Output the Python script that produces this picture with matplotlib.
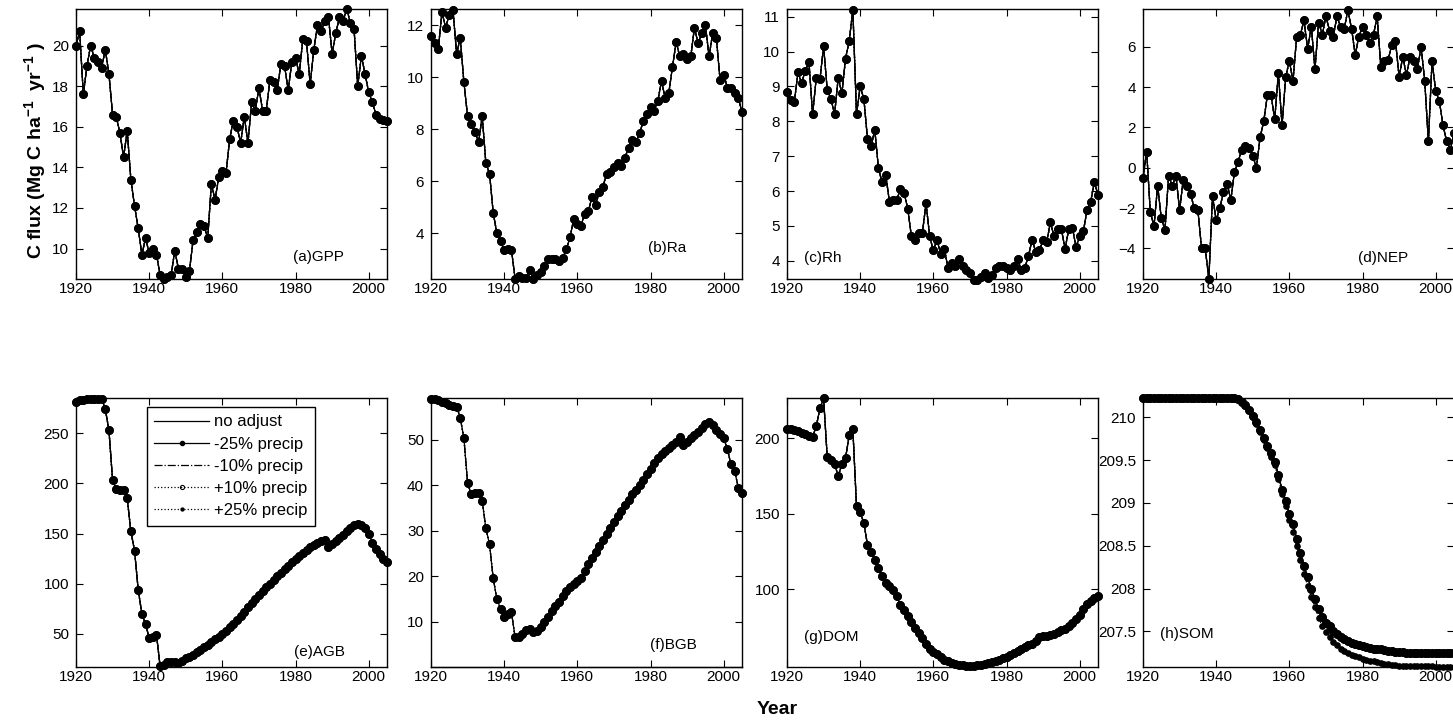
import numpy as np
import matplotlib
matplotlib.use("Agg")
import matplotlib.pyplot as plt

plt.rcParams['font.family'] = ['Liberation Sans', 'DejaVu Sans']
plt.rcParams['mathtext.fontset'] = 'custom'
plt.rcParams['mathtext.rm'] = 'Liberation Sans'
plt.rcParams['mathtext.bf'] = 'Liberation Sans:bold'
plt.rcParams['mathtext.default'] = 'regular'

years = np.arange(1920, 2006)

# ---- annual carbon fluxes (Mg C ha-1 yr-1) ----
gpp = [20.0, 20.7, 17.6, 19.0, 20.0, 19.4, 19.2, 18.9, 19.8, 18.6,
       16.6, 16.5, 15.7, 14.5, 15.8, 13.4, 12.1, 11.0, 9.7, 10.5,
       9.8, 10.0, 9.7, 8.7, 8.5, 8.6, 8.7, 9.9, 9.0, 9.0,
       8.6, 8.9, 10.4, 10.8, 11.2, 11.1, 10.5, 13.2, 12.4, 13.5,
       13.8, 13.7, 15.4, 16.3, 16.0, 15.2, 16.5, 15.2, 17.2, 16.8,
       17.9, 16.8, 16.8, 18.3, 18.2, 17.8, 19.1, 19.0, 17.8, 19.2,
       19.4, 18.6, 20.3, 20.2, 18.1, 19.8, 21.0, 20.7, 21.2, 21.4,
       19.6, 20.6, 21.4, 21.2, 21.8, 21.1, 20.8, 18.0, 19.5, 18.6,
       17.7, 17.2, 16.6, 16.4, 16.35, 16.3]

ra = [11.6, 11.3, 11.1, 12.5, 11.9, 12.4, 12.6, 10.9, 11.5, 9.8,
      8.5, 8.2, 7.9, 7.5, 8.5, 6.7, 6.3, 4.8, 4.0, 3.7,
      3.35, 3.4, 3.35, 2.25, 2.35, 2.3, 2.3, 2.6, 2.25, 2.4,
      2.5, 2.75, 3.0, 3.0, 3.0, 2.95, 3.05, 3.4, 3.85, 4.55,
      4.35, 4.3, 4.75, 4.85, 5.4, 5.1, 5.6, 5.8, 6.3, 6.35,
      6.55, 6.7, 6.6, 6.9, 7.3, 7.6, 7.5, 7.85, 8.3, 8.6,
      8.85, 8.7, 9.1, 9.85, 9.2, 9.4, 10.4, 11.35, 10.8, 10.9,
      10.7, 10.8, 11.9, 11.3, 11.7, 12.0, 10.8, 11.7, 11.5, 9.9,
      10.1, 9.6, 9.6, 9.4, 9.2, 8.65]

rh = [8.85, 8.6, 8.55, 9.4, 9.1, 9.45, 9.7, 8.2, 9.25, 9.2,
      10.15, 8.9, 8.65, 8.2, 9.25, 8.8, 9.8, 10.3, 11.2, 8.2,
      9.0, 8.65, 7.5, 7.3, 7.75, 6.65, 6.25, 6.45, 5.7, 5.75,
      5.75, 6.05, 5.95, 5.5, 4.7, 4.6, 4.8, 4.8, 5.65, 4.7,
      4.3, 4.6, 4.2, 4.35, 3.8, 3.95, 3.85, 4.05, 3.85, 3.75,
      3.65, 3.45, 3.45, 3.55, 3.65, 3.5, 3.6, 3.8, 3.85, 3.85,
      3.8, 3.75, 3.85, 4.05, 3.75, 3.8, 4.15, 4.6, 4.25, 4.3,
      4.6, 4.55, 5.1, 4.7, 4.9, 4.9, 4.35, 4.9, 4.95, 4.4,
      4.7, 4.85, 5.45, 5.7, 6.25, 5.9]

nep = [-0.5, 0.8, -2.2, -2.9, -0.9, -2.5, -3.1, -0.4, -0.9, -0.4,
       -2.1, -0.6, -0.9, -1.3, -2.0, -2.1, -4.0, -4.0, -5.5, -1.4,
       -2.6, -2.0, -1.2, -0.8, -1.6, -0.2, 0.3, 0.9, 1.1, 1.0,
       0.6, 0.0, 1.5, 2.3, 3.6, 3.6, 2.4, 4.7, 2.1, 4.5,
       5.3, 4.3, 6.5, 6.6, 7.3, 5.9, 7.0, 4.9, 7.2, 6.6,
       7.5, 6.8, 6.5, 7.5, 7.0, 6.9, 7.8, 6.9, 5.6, 6.5,
       7.0, 6.6, 6.2, 6.6, 7.5, 5.0, 5.3, 5.35, 6.1, 6.3,
       4.5, 5.5, 4.6, 5.5, 5.3, 4.9, 6.0, 4.3, 1.3, 5.3,
       3.8, 3.3, 2.1, 1.3, 0.9, 1.7]

# ---- carbon pools (Mg C ha-1) ----
agb = [281, 283, 283.5, 284, 284.5, 284.5, 284.5, 284.5, 274, 253,
       203, 194, 193.5, 193, 185, 152, 133, 94, 70, 60,
       46, 47, 49, 17.5, 19, 22, 22, 21.5, 21, 23,
       25.5, 27, 29, 31.5, 34, 36.5, 39, 42, 44.5, 47,
       50, 53, 56.5, 60, 64, 68, 72, 76.5, 80.5, 84.5,
       88.5, 92.5, 96.5, 100, 104, 107.5, 111, 114.5, 118, 121.5,
       125, 128, 131, 134, 136.5, 138.5, 140.5, 142.5, 144, 137,
       140, 143, 146, 149, 152, 155, 158, 159.5, 158.5, 155,
       150, 141, 135, 130, 125, 122]

bgb = [58.9, 59.0, 58.7, 58.3, 58.0, 57.7, 57.5, 57.3, 54.8, 50.3,
       40.5, 38.0, 38.2, 38.3, 36.5, 30.5, 27.0, 19.5, 15.0, 12.8,
       11.0, 11.6, 12.0, 6.5, 6.6, 7.3, 8.1, 8.4, 7.6, 8.0,
       8.8, 9.9, 11.0, 12.3, 13.4, 14.4, 15.6, 16.7, 17.6, 18.3,
       18.9, 19.6, 21.2, 22.6, 24.0, 25.3, 26.6, 28.0, 29.3, 30.6,
       31.9, 33.2, 34.3, 35.6, 36.8, 38.0, 39.0, 40.0, 41.2, 42.4,
       43.6, 44.8, 46.0, 46.8, 47.5, 48.2, 48.9, 49.5, 50.6, 48.8,
       49.6, 50.4, 51.0, 51.8, 52.6, 53.4, 53.9, 53.2, 52.2, 51.2,
       50.4, 47.9, 44.6, 43.1, 39.5, 38.2]

bgb_noadj = [0, 0, 0, 0, 0, 0, 0, 0, 0, 0,
             0, 0, 0, 0, 0, 0, 0, 0, 0, 0,
             0, 0, 0, 0, 0, 0, 0, 0, 0, 0,
             0, 0, 0, 0, 0, 0, 0, 0, 0, 0,
             0, 0, 0, 0, 0, 0, 0, 0, 0, 0,
             0, 0, 0, 0, 0, 0, 0, 0, 0, 0,
             0, 0, 0, 0, 0, 0, 0, 0, 0, 0,
             0, 0, 0, 0, 0, 0, 0, 0, 0, 0,
             0, 0, 0, 0, 0, 0]

dom = [206.2, 206.0, 205.5, 204.8, 203.8, 202.8, 201.5, 201.2, 208.0, 220.0,
       226.5, 187.5, 185.5, 183.0, 175.0, 183.0, 187.0, 202.0, 206.0, 155.0,
       151.0, 144.0, 129.5, 125.0, 119.5, 114.0, 108.5, 104.5, 102.0, 99.5,
       95.5, 89.5, 86.0, 82.0, 78.5, 74.5, 71.0, 67.5, 63.5, 60.5,
       58.5, 56.8, 55.0, 53.3, 52.2, 51.2, 50.5, 50.0, 49.6, 49.3,
       49.2, 49.2, 49.6, 50.0, 50.6, 51.2, 51.8, 52.6, 53.4, 54.4,
       55.4, 56.6, 57.8, 59.0, 60.3, 61.5, 62.8, 64.0, 66.0, 68.5,
       68.8, 69.1, 69.6, 70.5, 71.6, 72.8, 74.0, 75.5, 77.5, 80.0,
       83.0, 87.0, 90.5, 92.5, 94.2, 95.5]

som = [210.22, 210.22, 210.22, 210.22, 210.22, 210.22, 210.22, 210.22, 210.22, 210.22,
       210.22, 210.22, 210.22, 210.22, 210.22, 210.22, 210.22, 210.22, 210.22, 210.22,
       210.22, 210.22, 210.22, 210.22, 210.22, 210.22, 210.21, 210.18, 210.14, 210.08,
       210.02, 209.94, 209.85, 209.76, 209.67, 209.58, 209.48, 209.33, 209.15, 209.02,
       208.87, 208.75, 208.58, 208.42, 208.26, 208.13, 208.00, 207.88, 207.76, 207.67,
       207.60, 207.56, 207.51, 207.47, 207.44, 207.41, 207.39, 207.37, 207.35, 207.34,
       207.33, 207.32, 207.31, 207.30, 207.29, 207.29, 207.28, 207.27, 207.27, 207.26,
       207.26, 207.26, 207.25, 207.25, 207.25, 207.25, 207.25, 207.25, 207.25, 207.25,
       207.25, 207.25, 207.25, 207.25, 207.25, 207.25]

som_wet = [210.22, 210.22, 210.22, 210.22, 210.22, 210.22, 210.22, 210.22, 210.22, 210.22,
           210.22, 210.22, 210.22, 210.22, 210.22, 210.22, 210.22, 210.22, 210.22, 210.22,
           210.22, 210.22, 210.22, 210.22, 210.22, 210.22, 210.21, 210.17, 210.13, 210.07,
           210.00, 209.92, 209.83, 209.74, 209.64, 209.54, 209.44, 209.28, 209.10, 208.96,
           208.80, 208.66, 208.50, 208.33, 208.17, 208.03, 207.90, 207.78, 207.66, 207.56,
           207.49, 207.43, 207.38, 207.34, 207.30, 207.27, 207.25, 207.23, 207.21, 207.20,
           207.18, 207.17, 207.16, 207.15, 207.14, 207.13, 207.12, 207.12, 207.11, 207.11,
           207.10, 207.10, 207.10, 207.10, 207.10, 207.10, 207.10, 207.10, 207.10, 207.10,
           207.09, 207.09, 207.09, 207.09, 207.09, 207.09]

scenarios = ['no adjust', '-25% precip', '-10% precip', '+10% precip', '+25% precip']
panel_names = ['(a)GPP', '(b)Ra', '(c)Rh', '(d)NEP', '(e)AGB', '(f)BGB', '(g)DOM', '(h)SOM']
xticks = [1920, 1940, 1960, 1980, 2000]

# series for each panel, with scenario-specific runs where they differ
panel_series = [
    (gpp, {}), (ra, {}), (rh, {}), (nep, {}),
    (agb, {}), (bgb, {'no adjust': bgb_noadj}), (dom, {}), (som, {'+25% precip': som_wet}),
]
for base, extra in panel_series:
    assert len(base) == len(years)
    for v in extra.values():
        assert len(v) == len(years)

# ---- layout / styling ----
ylims = [(8.5, 21.8), (2.25, 12.62), (3.48, 11.22), (-5.52, 7.87),
         (17.0, 285.0), (0.0, 59.2), (48.5, 226.8), (207.085, 210.225)]
yticks = [[10, 12, 14, 16, 18, 20], [4, 6, 8, 10, 12], [4, 5, 6, 7, 8, 9, 10, 11],
          [-4, -2, 0, 2, 4, 6], [50, 100, 150, 200, 250], [10, 20, 30, 40, 50],
          [100, 150, 200], [207.5, 208, 208.5, 209, 209.5, 210]]
label_pos = [(0.698, 0.081), (0.698, 0.115), (0.055, 0.078), (0.69, 0.078),
             (0.70, 0.057), (0.704, 0.082), (0.055, 0.113), (0.055, 0.123)]

styles = {
    'no adjust':   dict(ls='-', lw=0.9),
    '-25% precip': dict(ls='-', lw=0.9, marker='o', ms=5.4, mfc='k', mec='k'),
    '-10% precip': dict(ls='-.', lw=0.9),
    '+10% precip': dict(ls=':', lw=0.9, marker='o', ms=5.4, mfc='none', mec='k', mew=0.8),
    '+25% precip': dict(ls=':', lw=0.9, marker='o', ms=3.8, mfc='k', mec='k'),
}

W = 1453.0
H = 724.0
fig = plt.figure(figsize=(W / 100, H / 100), dpi=100)
lefts_px = [76, 431, 787, 1143]
rows_px = [(9, 279), (398, 667)]

axes = []
for r, (top, bot) in enumerate(rows_px):
    for c, lx in enumerate(lefts_px):
        ax = fig.add_axes([lx / W, 1 - bot / H, 311 / W, (bot - top) / H])
        axes.append(ax)

for i, ax in enumerate(axes):
    base, extra = panel_series[i]
    handles = []
    for name in scenarios:
        vals = extra.get(name, base)
        h, = ax.plot(years, vals, color='k', label=name, clip_on=False, **styles[name])
        handles.append(h)
    ax.set_xlim(1920, 2005)
    ax.set_ylim(*ylims[i])
    ax.set_xticks(xticks)
    ax.set_yticks(yticks[i])
    if i == 7:
        ax.set_yticklabels(['207.5', '208', '208.5', '209', '209.5', '210'])
    ax.tick_params(direction='in', top=True, right=True, length=5, width=0.8,
                   labelsize=11)
    ax.tick_params(axis='x', pad=2)
    ax.tick_params(axis='y', pad=5)
    for s in ax.spines.values():
        s.set_linewidth(1.0)
    ax.text(label_pos[i][0], label_pos[i][1], panel_names[i], transform=ax.transAxes,
            ha='left', va='center', fontsize=11)
    if i == 4:
        leg = ax.legend(handles=handles, loc='upper left', bbox_to_anchor=(0.228, 0.967),
                        borderaxespad=0, fontsize=12, handlelength=3.3, handletextpad=0.3,
                        labelspacing=0.43, borderpad=0.45, markerscale=0.55, numpoints=1,
                        fancybox=False, framealpha=1, edgecolor='k')
        leg.get_frame().set_linewidth(1.0)

fig.text(35 / W, 1 - 151 / H, r'C flux (Mg C ha$^{-1}$  yr$^{-1}$ )', rotation=90,
         ha='center', va='center', fontsize=14, fontweight='bold')
fig.text(777 / W, 1 - 710 / H, 'Year', ha='center', va='center', fontsize=14,
         fontweight='bold')

fig.savefig('out.png', dpi=100)
